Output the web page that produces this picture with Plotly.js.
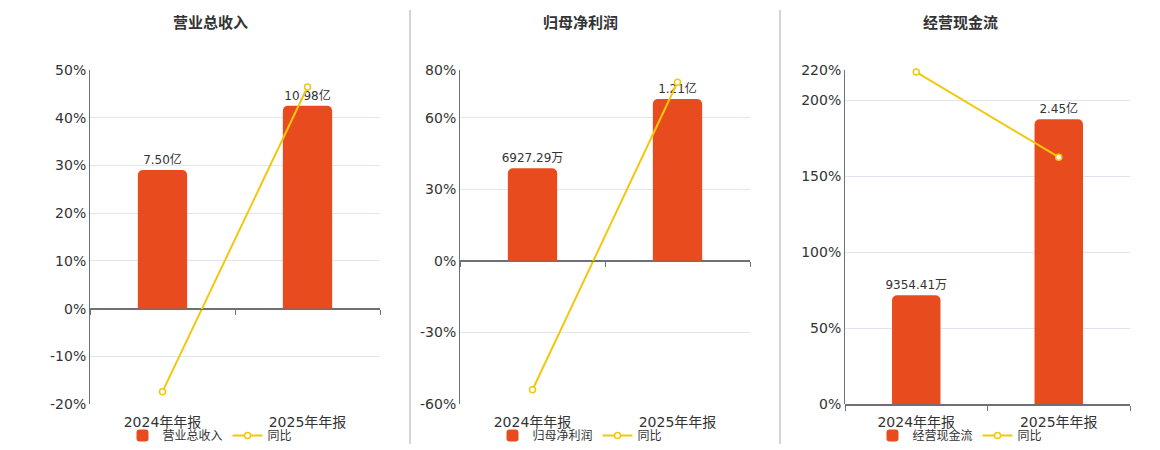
<!DOCTYPE html>
<html>
<head>
<meta charset="utf-8">
<script src="https://cdn.plot.ly/plotly-3.0.1.min.js"></script>
<style>
  html, body { margin: 0; padding: 0; background: #fff; }
  #chart { width: 1160px; height: 450px; }
</style>
</head>
<body>
<div id="chart"></div>
<script>
const periods = ["2024年年报", "2025年年报"];

// 营业总收入 (亿)
const revenue = [7.50, 10.98];
const revenueLabels = ["7.50亿", "10.98亿"];
const revenueYoY = [-17.4, 46.4];

// 归母净利润 (亿)
const profit = [0.692729, 1.21];
const profitLabels = ["6927.29万", "1.21亿"];
const profitYoY = [-54.0, 74.8];

// 经营现金流 (亿)
const cashflow = [0.935441, 2.45];
const cashflowLabels = ["9354.41万", "2.45亿"];
const cashflowYoY = [218.5, 162.5];

const panelTitles = ["营业总收入", "归母净利润", "经营现金流"];

const pctTicks1 = [-20, -10, 0, 10, 20, 30, 40, 50];
const pctTicks2 = [-60, -30, 0, 30, 60, 80];
const pctTicks3 = [0, 50, 100, 150, 200, 220];

const BAR = "#E84C1E";
const LINE = "#F2C80F";
const FONT = "DejaVu Sans, Noto Sans CJK SC, sans-serif";

const W = 1160, H = 450;
const yDom = [1 - 405 / H, 1 - 70 / H];
const panels = [
  { xd: [90 / W, 380 / W], bars: revenue, labels: revenueLabels, yoy: revenueYoY, name: panelTitles[0],
    ticks: pctTicks1, barRange: [-5.17, 12.92], cx: 210 },
  { xd: [460 / W, 750 / W], bars: profit, labels: profitLabels, yoy: profitYoY, name: panelTitles[1],
    ticks: pctTicks2, barRange: [-1.071, 1.428], cx: 580 },
  { xd: [845 / W, 1130 / W], bars: cashflow, labels: cashflowLabels, yoy: cashflowYoY, name: panelTitles[2],
    ticks: pctTicks3, barRange: [0, 2.875], cx: 960 }
];

const traces = [];
const layout = {
  width: W, height: H,
  margin: { l: 0, r: 0, t: 0, b: 0 },
  paper_bgcolor: "#fff",
  plot_bgcolor: "rgba(0,0,0,0)",
  font: { family: FONT, color: "#333", size: 12 },
  showlegend: true,
  annotations: [],
  shapes: []
};

panels.forEach((p, i) => {
  const n = i + 1;
  const xid = n === 1 ? "x" : "x" + n;
  const xo = "x" + (n + 3);
  const yb = "y" + (2 * n - 1 === 1 ? "" : 2 * n - 1);
  const yp = "y" + (2 * n);
  const leg = n === 1 ? "legend" : "legend" + n;

  traces.push({
    type: "bar", x: periods, y: p.bars, name: p.name,
    xaxis: xid, yaxis: yb, legend: leg,
    width: 0.34,
    marker: { color: BAR, cornerradius: 5 },
    text: p.labels, textposition: "outside", cliponaxis: false, constraintext: "none",
    textfont: { size: 12, color: "#333", family: FONT },
    hoverinfo: "skip"
  });
  traces.push({
    type: "scatter", mode: "lines+markers", x: periods, y: p.yoy, name: "同比",
    xaxis: xo, yaxis: yp, legend: leg,
    line: { color: LINE, width: 2 },
    marker: { symbol: "circle", size: 6, color: "#fff", line: { color: LINE, width: 1.5 } },
    cliponaxis: false,
    hoverinfo: "skip"
  });

  const tr = [p.ticks[0], p.ticks[p.ticks.length - 1]];

  layout["xaxis" + (n === 1 ? "" : n)] = {
    domain: p.xd, anchor: yb, type: "category",
    categoryarray: periods, range: [-0.5, 1.5],
    showline: false, showgrid: false, zeroline: false,
    ticks: "", ticklabelstandoff: 8,
    tickfont: { size: 14, color: "#333", family: FONT },
    fixedrange: true
  };
  layout["yaxis" + (2 * n - 1 === 1 ? "" : 2 * n - 1)] = {
    domain: yDom, anchor: xid, range: p.barRange, visible: false, fixedrange: true
  };
  layout["yaxis" + (2 * n)] = {
    domain: yDom, anchor: xid, overlaying: yb, side: "left",
    range: tr, tickvals: p.ticks, ticktext: p.ticks.map(v => v + "%"),
    showgrid: true, gridcolor: "#E0E6F1", gridwidth: 1,
    zeroline: true, zerolinecolor: "#6E7079", zerolinewidth: 1.5,
    showline: true, linecolor: "#6E7079", linewidth: 1,
    ticks: "", ticklen: 0,
    tickfont: { size: 14, color: "#333", family: FONT },
    fixedrange: true
  };

  // category axis drawn on the 0% level, with ticks on the category boundaries
  const zeroPos = yDom[0] + (0 - tr[0]) / (tr[1] - tr[0]) * (yDom[1] - yDom[0]);
  layout["xaxis" + (n + 3)] = {
    overlaying: xid, anchor: "free", position: zeroPos, type: "category",
    categoryarray: periods, range: [-0.5, 1.5], tickson: "boundaries",
    showticklabels: false, ticks: "outside", ticklen: 5, tickcolor: "#6E7079", tickwidth: 1,
    showline: true, linecolor: "#6E7079", linewidth: 1.5,
    showgrid: false, zeroline: false, fixedrange: true
  };

  layout[leg] = {
    orientation: "h", x: p.cx / W, xanchor: "center", y: 1 - 436 / H, yanchor: "middle",
    font: { size: 12, color: "#333", family: FONT },
    bgcolor: "rgba(0,0,0,0)", itemwidth: 30, traceorder: "normal"
  };

  layout.annotations.push({
    text: "<b>" + p.name + "</b>", xref: "paper", yref: "paper",
    x: p.cx / W, y: 1 - 22 / H, xanchor: "center", yanchor: "middle",
    showarrow: false, font: { size: 15, color: "#333", family: "Noto Sans CJK SC, sans-serif" }
  });
});

[410, 780].forEach(px => {
  layout.shapes.push({
    type: "line", xref: "paper", yref: "paper",
    x0: px / W, x1: px / W, y0: 1 - 10 / H, y1: 1 - 445 / H,
    line: { color: "#AAAAAA", width: 1 }
  });
});

Plotly.newPlot("chart", traces, layout, { staticPlot: true, displayModeBar: false });
</script>
</body>
</html>
